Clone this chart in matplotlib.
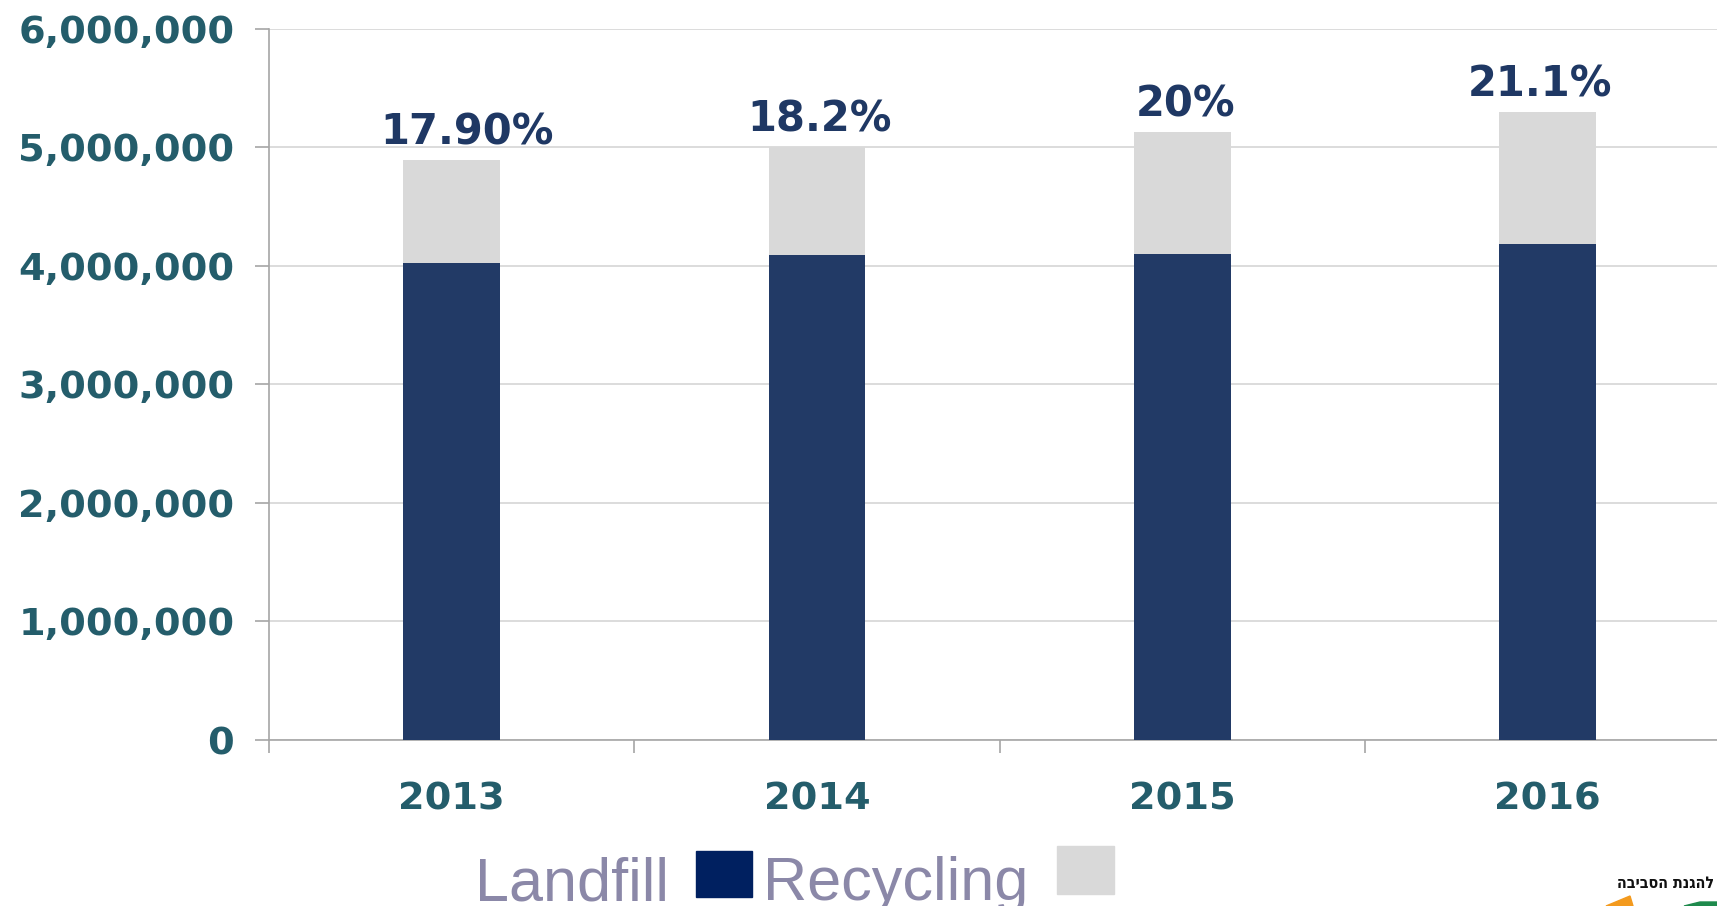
import matplotlib
matplotlib.use("Agg")
import matplotlib.pyplot as plt
from matplotlib.patches import Rectangle, Polygon
from matplotlib.ticker import FuncFormatter, FixedLocator
import numpy as np

# data (tonnes)
years = ["2013", "2014", "2015", "2016"]
landfill = [4020000, 4090000, 4100000, 4180000]
recycling = [870000, 910000, 1030000, 1120000]
pct_labels = ["17.90%", "18.2%", "20%", "21.1%"]

NAVY = "#223A66"
GRAY = "#D9D9D9"
TEAL = "#245D6B"

W, H = 1717, 906
fig = plt.figure(figsize=(W / 100, H / 100), dpi=100)
ax = fig.add_axes([0.1567, 0.1832, 0.851, 0.7853])

x = np.arange(len(years))
ax.bar(x, landfill, width=0.264, color=NAVY, zorder=3)
ax.bar(x, recycling, width=0.264, bottom=landfill, color=GRAY, zorder=3)

# small horizontal nudges of the % labels, as in the original slide
nudge = [11, 1.5, 2.5, -5.5]
totals = [a + b for a, b in zip(landfill, recycling)]
for xi, t, lab, dx in zip(x, totals, pct_labels, nudge):
    ax.annotate(lab, xy=(xi, t), xytext=(dx, 11), textcoords="offset points",
                ha="center", va="baseline", fontsize=30, fontweight="bold",
                color="#1F3864", family="DejaVu Sans")

ax.set_xlim(-0.5, len(years) - 0.5)
ax.set_ylim(0, 6000000)
ax.set_yticks(np.arange(0, 6000001, 1000000))
ax.yaxis.set_major_formatter(FuncFormatter(lambda v, p: f"{int(v):,}"))
ax.grid(axis="y", color="#D9D9D9", linewidth=1.3, zorder=0)

ax.set_xticks(x)
ax.set_xticklabels(years)
ax.xaxis.set_minor_locator(FixedLocator(np.arange(-0.5, len(years), 1.0)))
ax.tick_params(axis="x", which="major", length=0, pad=30)
ax.tick_params(axis="x", which="minor", length=9, color="#A6A6A6", width=1.2)
ax.tick_params(axis="y", length=10, color="#A6A6A6", width=1.2, pad=15)

for lab in ax.get_xticklabels() + ax.get_yticklabels():
    lab.set_fontsize(27.5)
    lab.set_fontweight("bold")
    lab.set_color(TEAL)
    lab.set_family("DejaVu Sans")

for s in ["top", "right"]:
    ax.spines[s].set_visible(False)
ax.spines["left"].set_color("#A6A6A6")
ax.spines["bottom"].set_color("#A6A6A6")
ax.spines["left"].set_linewidth(1.2)
ax.spines["bottom"].set_linewidth(1.2)

# legend drawn as text + squares
leg_color = "#8B88A8"
fig.text(0.2767, 0.0066, "Landfill", fontsize=44, color=leg_color,
         family="Liberation Sans", va="baseline", ha="left")
fig.patches.append(Rectangle((0.4054, 0.0099), 0.0326, 0.0508,
                             transform=fig.transFigure, color="#002060"))
fig.text(0.4444, 0.0066, "Recycling", fontsize=44, color=leg_color,
         family="Liberation Sans", va="baseline", ha="left")
fig.patches.append(Rectangle((0.6156, 0.0133), 0.0332, 0.053,
                             transform=fig.transFigure, color=GRAY))

# partial ministry logo, bottom right (text reversed for right-to-left display)
fig.text(0.9985, (H - 888) / H, "להגנת הסביבה"[::-1], fontsize=11.5,
         fontweight="bold", fontstretch="condensed", color="#111111",
         ha="right", va="baseline", family="DejaVu Sans")
fig.patches.append(Polygon([(1606 / W, 0), (1630 / W, 10 / H), (1633 / W, 0)],
                           closed=True, transform=fig.transFigure,
                           color="#F39A1E"))
fig.patches.append(Polygon([(1684 / W, 0), (1700 / W, 4 / H), (1717 / W, 4 / H),
                            (1717 / W, 0)],
                           closed=True, transform=fig.transFigure,
                           color="#1E8A4C"))

fig.savefig("out.png", dpi=100)
